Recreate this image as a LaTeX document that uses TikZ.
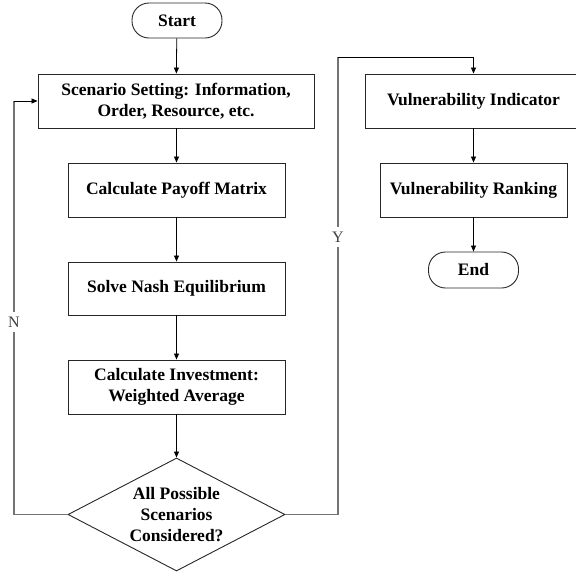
\documentclass[tikz,border=0pt]{standalone}
\usepackage{fontspec}
\setmainfont{Liberation Serif}
\usetikzlibrary{arrows.meta,shapes.geometric,calc}
\tikzset{
  txt/.style={font=\bfseries\fontsize{17.5}{21}\selectfont, align=center, text=black},
  box/.style={txt, draw=black!85, line width=0.9pt, rectangle, inner sep=0pt},
  term/.style={txt, draw=black!85, line width=0.9pt, rectangle, rounded corners=17pt, minimum width=90pt, minimum height=35pt, inner sep=0pt},
  flow/.style={draw=black, line width=0.8pt, -{Triangle[length=6pt,width=5pt]}},
  loopline/.style={draw=black!55, line width=1.1pt},
  lbl/.style={font=\fontsize{16}{18}\selectfont, fill=white, inner xsep=1pt, inner ysep=5pt, text=black!75},
}
\begin{document}
\begin{tikzpicture}[x=1pt,y=-1pt]
\useasboundingbox (0,0) rectangle (576,574);
\clip (0,0) rectangle (576,574);
% left column
\node[term] (start) at (177,20.5) {Start};
\node[box, minimum width=276pt, minimum height=54pt] (scen) at (176,101) {Scenario Setting: Information,\\Order, Resource, etc.};
\node[box, minimum width=217pt, minimum height=54pt] (pay) at (176.5,190) {Calculate Payoff Matrix};
\node[box, minimum width=217pt, minimum height=53pt] (nash) at (176.5,288.5) {Solve Nash Equilibrium};
\node[box, minimum width=217pt, minimum height=54pt] (inv) at (176.5,387) {Calculate Investment:\\Weighted Average};
\node[diamond, draw=black!85, line width=0.9pt, minimum width=217pt, minimum height=113pt, inner sep=0pt] (dec) at (176.5,514.5) {};
\node[txt] (dectext) at (dec.center) {All Possible\\Scenarios\\Considered?};
% right column
\node[box, minimum width=187pt, minimum height=54pt] (rank) at (473.5,190) {Vulnerability Ranking};
\node[box, minimum width=217pt, minimum height=54pt] (ind) at (473.5,101) {Vulnerability Indicator};
\node[term, minimum height=36pt] (end) at (473.5,270) {End};
% coordinates for loops
\coordinate (nc) at (14,101);
\coordinate (ytop) at (338,57);
% main flow
\draw[flow] (start) -- (scen);
\draw[flow] (scen.south -| pay.north) -- (pay.north);
\draw[flow] (pay) -- (nash);
\draw[flow] (nash) -- (inv);
\draw[flow] (inv.south) -- (dec.north);
\draw[flow] (ind) -- (rank);
\draw[flow] (rank) -- (end);
% N loop
\draw[loopline] (dec.west) -| (nc);
\draw[flow] (nc) -- (scen.west);
\node[lbl] (nlab) at (14,322) {N};
% Y loop
\draw[loopline] (dec.east) -| (ytop);
\draw[flow] (ytop) -| (ind.north);
\node[lbl] (ylab) at (338,237) {Y};
\end{tikzpicture}
\end{document}
